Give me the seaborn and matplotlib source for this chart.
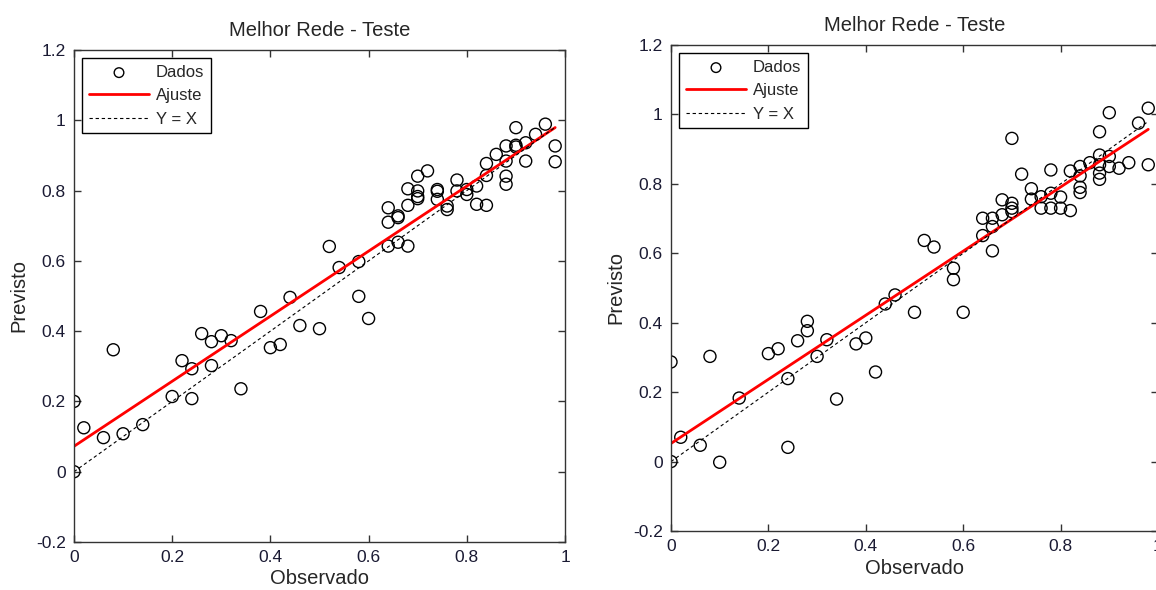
import numpy as np
import pandas as pd
import matplotlib
matplotlib.use('Agg')
import matplotlib.pyplot as plt
import seaborn as sns
from matplotlib.ticker import FuncFormatter

# valores - rede 1 (esquerda)
obs_esq = [0, 0, 0.02, 0.06, 0.08, 0.10, 0.14, 0.20, 0.22, 0.24,
           0.24, 0.26, 0.28, 0.28, 0.30, 0.32, 0.34, 0.38, 0.40, 0.42,
           0.44, 0.46, 0.50, 0.52, 0.54, 0.58, 0.58, 0.60, 0.64, 0.64,
           0.64, 0.66, 0.66, 0.66, 0.68, 0.68, 0.68, 0.70, 0.70, 0.70,
           0.70, 0.72, 0.74, 0.74, 0.74, 0.76, 0.76, 0.78, 0.78, 0.80,
           0.80, 0.82, 0.82, 0.84, 0.84, 0.84, 0.86, 0.88, 0.88, 0.88,
           0.88, 0.90, 0.90, 0.90, 0.92, 0.92, 0.94, 0.96, 0.98, 0.98]
prev_esq = [0.200, 0.000, 0.125, 0.097, 0.347, 0.108, 0.134, 0.214, 0.316, 0.208,
            0.293, 0.393, 0.370, 0.302, 0.387, 0.373, 0.236, 0.456, 0.353, 0.362,
            0.496, 0.416, 0.407, 0.641, 0.581, 0.499, 0.598, 0.436, 0.751, 0.710,
            0.642, 0.723, 0.728, 0.653, 0.805, 0.758, 0.642, 0.841, 0.799, 0.777,
            0.783, 0.856, 0.803, 0.798, 0.775, 0.756, 0.746, 0.830, 0.799, 0.803,
            0.789, 0.813, 0.761, 0.758, 0.877, 0.843, 0.903, 0.927, 0.884, 0.841,
            0.818, 0.979, 0.929, 0.924, 0.936, 0.884, 0.960, 0.989, 0.927, 0.882]

# rede 2 (direita)
obs_dir = [0, 0, 0.02, 0.06, 0.08, 0.10, 0.14, 0.20, 0.22, 0.24,
           0.24, 0.26, 0.28, 0.28, 0.30, 0.32, 0.34, 0.38, 0.40, 0.42,
           0.44, 0.46, 0.50, 0.52, 0.54, 0.58, 0.58, 0.60, 0.64, 0.64,
           0.66, 0.66, 0.66, 0.68, 0.68, 0.70, 0.70, 0.70, 0.70, 0.72,
           0.74, 0.74, 0.76, 0.76, 0.78, 0.78, 0.78, 0.80, 0.80, 0.82,
           0.82, 0.84, 0.84, 0.84, 0.84, 0.86, 0.88, 0.88, 0.88, 0.88,
           0.88, 0.90, 0.90, 0.90, 0.92, 0.94, 0.96, 0.98, 0.98]
prev_dir = [0.287, 0.000, 0.070, 0.047, 0.303, -0.002, 0.183, 0.311, 0.325, 0.239,
            0.041, 0.348, 0.404, 0.377, 0.303, 0.351, 0.180, 0.339, 0.356, 0.258,
            0.454, 0.480, 0.430, 0.637, 0.618, 0.524, 0.557, 0.430, 0.651, 0.701,
            0.607, 0.701, 0.677, 0.754, 0.711, 0.931, 0.744, 0.730, 0.720, 0.828,
            0.786, 0.756, 0.763, 0.730, 0.840, 0.773, 0.730, 0.762, 0.730, 0.723,
            0.837, 0.850, 0.823, 0.790, 0.775, 0.861, 0.855, 0.831, 0.813, 0.950,
            0.883, 1.005, 0.879, 0.850, 0.845, 0.861, 0.975, 1.018, 0.855]

titulo = 'Melhor Rede - Teste'
xticks = [0, 0.2, 0.4, 0.6, 0.8, 1]
yticks = [-0.2, 0, 0.2, 0.4, 0.6, 0.8, 1, 1.2]

sns.set_style('ticks')
plt.rcParams['font.family'] = ['Liberation Sans', 'DejaVu Sans']
plt.rcParams['xtick.direction'] = 'in'
plt.rcParams['ytick.direction'] = 'in'

fig = plt.figure(figsize=(11.56, 5.90), dpi=100)
ax1 = fig.add_axes([74/1156, 48/590, 491/1156, 492/590])
ax2 = fig.add_axes([671/1156, 59/590, 487/1156, 486/590])


def painel(ax, obs, prev):
    df = pd.DataFrame({'Observado': obs, 'Previsto': prev})
    sns.scatterplot(data=df, x='Observado', y='Previsto', ax=ax, marker='o', s=75,
                    facecolor='none', edgecolor='black', linewidth=1.0, label='Dados')
    sns.regplot(data=df, x='Observado', y='Previsto', ax=ax, ci=None, scatter=False,
                line_kws={'color': 'red', 'lw': 2.0})
    ax.lines[-1].set_label('Ajuste')
    faixa = [df['Observado'].min(), df['Observado'].max()]
    ax.plot(faixa, faixa, ls='--', color='black', lw=0.8, dashes=(3, 2.5), label='Y = X')

    ax.set_xlim(0, 1)
    ax.set_ylim(-0.2, 1.2)
    ax.set_xticks(xticks)
    ax.set_yticks(yticks)
    ax.xaxis.set_major_formatter(FuncFormatter(lambda v, p: '%g' % round(v, 2)))
    ax.yaxis.set_major_formatter(FuncFormatter(lambda v, p: '%g' % round(v, 2)))
    ax.tick_params(top=True, right=True, length=5, width=1, labelsize=12.5,
                   colors='#333333', labelcolor='#1a1a33', pad=6)
    for s in ax.spines.values():
        s.set_visible(True)
        s.set_color('#333333')
        s.set_linewidth(1.0)
    ax.set_title(titulo, fontsize=14.5, pad=10)
    ax.set_xlabel('Observado', fontsize=14.5, labelpad=3)
    ax.set_ylabel('Previsto', fontsize=14.5, labelpad=5)
    leg = ax.legend(loc='upper left', fontsize=12, fancybox=False, framealpha=1,
                    edgecolor='black', handlelength=3.6, handletextpad=0.4,
                    borderpad=0.4, labelspacing=0.5, borderaxespad=0.5,
                    markerscale=0.8)
    leg.get_frame().set_linewidth(1.0)


painel(ax1, obs_esq, prev_esq)
painel(ax2, obs_dir, prev_dir)

fig.savefig('out.png', dpi=100)
